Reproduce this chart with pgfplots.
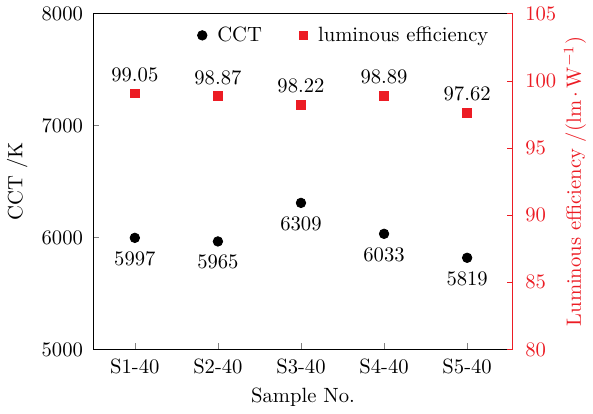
\documentclass[border=0pt]{standalone}
\usepackage{pgfplots}
\pgfplotsset{compat=1.18}
\definecolor{myred}{RGB}{236,28,36}
\begin{document}
\begin{tikzpicture}
\begin{axis}[
  name=ax,
  scale only axis, width=203.4pt, height=162.9pt,
  xmin=0.5, xmax=5.55, ymin=5000, ymax=8000,
  xtick={1,2,3,4,5}, xticklabels={S1-40,S2-40,S3-40,S4-40,S5-40},
  ytick={5000,6000,7000,8000},
  xtick pos=bottom, ytick pos=left, tick align=inside,
  major tick length=3pt,
  xlabel={Sample No.}, ylabel={CCT /K},
  scaled y ticks=false,
  yticklabel style={xshift=-1.5pt, /pgf/number format/set thousands separator={}},
  xticklabel style={yshift=-1pt},
  axis line style={line width=0.6pt},
  nodes near coords, point meta=explicit symbolic,
  every node near coord/.append style={anchor=north, yshift=-3pt, black},
]
\addplot[only marks, mark=*, mark size=2.3pt, black] coordinates {
(1,5997) [5997] (2,5965) [5965] (3,6309) [6309] (4,6033) [6033] (5,5819) [5819]};
\end{axis}
\begin{axis}[
  scale only axis, width=203.4pt, height=162.9pt,
  xmin=0.5, xmax=5.55, ymin=80, ymax=105,
  axis x line=none, axis y line*=right,
  ytick={80,85,90,95,100,105},
  tick align=inside, major tick length=3pt,
  y axis line style={myred, line width=0.6pt},
  ytick style={myred},
  yticklabel style={myred, xshift=2.5pt},
  ylabel={Luminous efficiency /(lm\,$\cdot$\,W$^{-1}$)},
  ylabel style={myred},
  ylabel shift=-3pt,
  nodes near coords, point meta=explicit symbolic,
  every node near coord/.append style={anchor=south, yshift=2pt, black},
  legend style={draw=none, fill=none, at={(0.6,0.935)}, anchor=center, legend columns=2,
    /tikz/every odd column/.append style={column sep=3pt},
    /tikz/every even column/.append style={column sep=16pt}},
  legend cell align=left,
]
\addlegendimage{only marks, mark=*, mark size=2.3pt, black}
\addlegendentry{CCT}
\addplot[only marks, mark=square*, mark size=2.1pt, myred] coordinates {
(1,99.05) [99.05] (2,98.87) [98.87] (3,98.22) [98.22] (4,98.89) [98.89] (5,97.62) [97.62]};
\addlegendentry{luminous efficiency}
\end{axis}
\end{tikzpicture}
\end{document}
